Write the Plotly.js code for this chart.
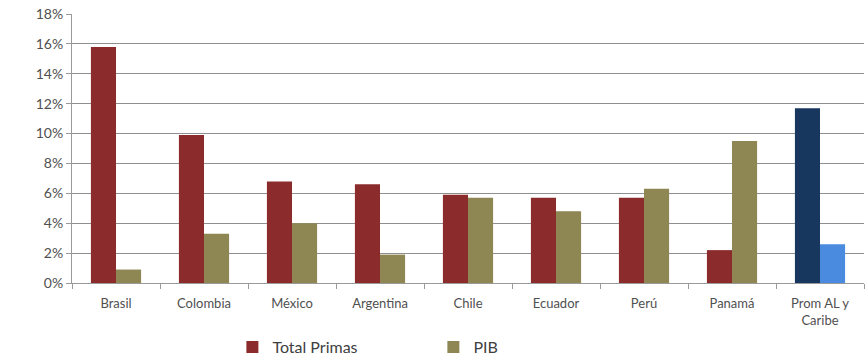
<!DOCTYPE html>
<html><head><meta charset="utf-8">
<script src="https://cdn.plot.ly/plotly-3.0.1.min.js"></script>
<style>html,body{margin:0;padding:0;background:#fff}#chart{width:867px;height:363px}</style>
</head><body><div id="chart"></div>
<script>
var categories = ["Brasil","Colombia","México","Argentina","Chile","Ecuador","Perú","Panamá","Prom AL y<br>Caribe"];
var totalPrimas = [15.8, 9.9, 6.8, 6.6, 5.9, 5.7, 5.7, 2.2, 11.7];
var pib = [0.9, 3.3, 4.0, 1.9, 5.7, 4.8, 6.3, 9.5, 2.6];
var primasColors = ["#8B2B2B","#8B2B2B","#8B2B2B","#8B2B2B","#8B2B2B","#8B2B2B","#8B2B2B","#8B2B2B","#17375E"];
var pibColors = ["#8E8653","#8E8653","#8E8653","#8E8653","#8E8653","#8E8653","#8E8653","#8E8653","#4A8BDF"];
var font = "Lato, 'Open Sans', sans-serif";
var data = [
  {type:"bar", name:"Total Primas", x:categories, y:totalPrimas, marker:{color:primasColors}},
  {type:"bar", name:"PIB", x:categories, y:pib, marker:{color:pibColors}}
];
var layout = {
  width:867, height:363,
  margin:{l:72, r:3, t:14, b:80, autoexpand:false},
  paper_bgcolor:"#fff", plot_bgcolor:"#fff",
  barmode:"group", bargap:0.43, bargroupgap:0,
  font:{family:font, size:13, color:"#505050"},
  xaxis:{type:"category", showline:true, linecolor:"#9a9a9a", linewidth:1, ticks:"outside", tickson:"boundaries", ticklen:5, tickcolor:"#9a9a9a",
         ticklabelstandoff:8, tickfont:{family:font, size:13, color:"#505050"}, showgrid:false, fixedrange:true, automargin:false},
  yaxis:{range:[0,18], dtick:2, ticksuffix:"%", showline:true, linecolor:"#9a9a9a", ticks:"outside", ticklen:5, tickcolor:"#9a9a9a",
         gridcolor:"#8f8f8f", gridwidth:1, zeroline:false, automargin:false, tickfont:{family:font, size:14, color:"#505050"}},
  showlegend:true,
  legend:{orientation:"h", x:0.2025, xanchor:"left", yref:"container", y:0.044, yanchor:"middle", entrywidth:156, itemwidth:20,
          font:{family:font, size:16, color:"#404040"}, traceorder:"normal"}
};
Plotly.newPlot("chart", data, layout, {displayModeBar:false, staticPlot:true});
</script></body></html>
